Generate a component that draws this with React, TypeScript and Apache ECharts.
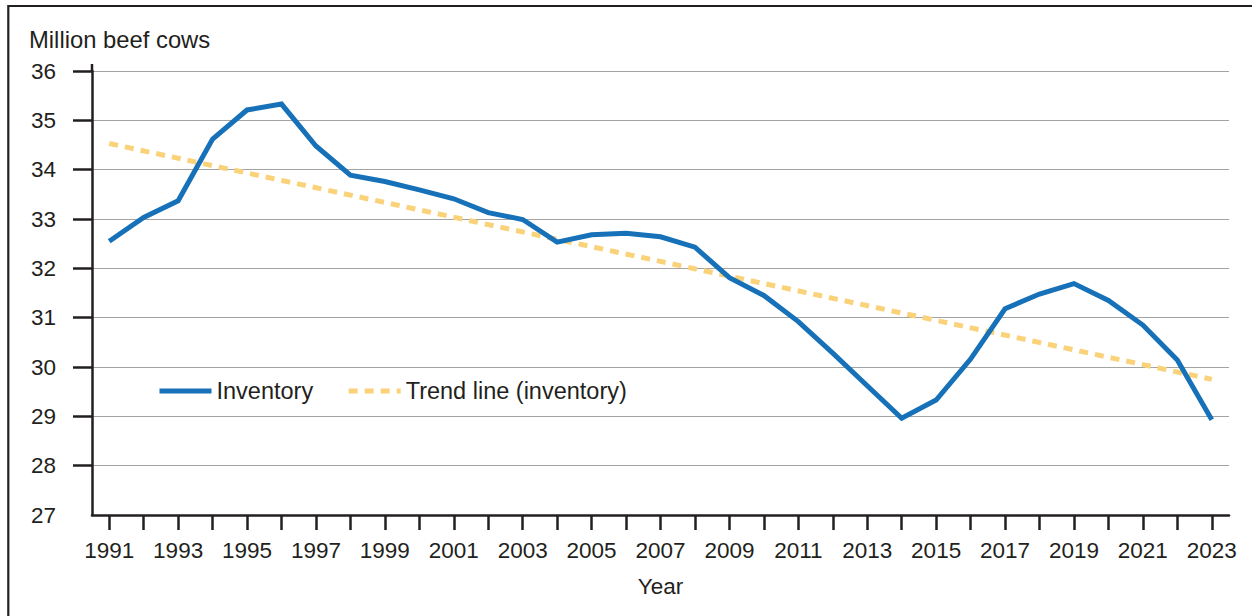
import React, { useEffect, useRef } from "react";
import * as echarts from "echarts";

const years = [
  "1991", "1992", "1993", "1994", "1995", "1996", "1997", "1998", "1999", "2000",
  "2001", "2002", "2003", "2004", "2005", "2006", "2007", "2008", "2009", "2010",
  "2011", "2012", "2013", "2014", "2015", "2016", "2017", "2018", "2019", "2020",
  "2021", "2022", "2023",
];

const inventory = [
  32.55, 33.03, 33.37, 34.62, 35.21, 35.33, 34.48, 33.89, 33.76, 33.59,
  33.41, 33.13, 32.99, 32.53, 32.68, 32.71, 32.64, 32.43, 31.81, 31.45,
  30.92, 30.28, 29.62, 28.96, 29.33, 30.16, 31.18, 31.48, 31.69, 31.35,
  30.85, 30.14, 28.93,
];

// Trend line endpoints; intermediate years are empty.
const trendFirst = 34.53;
const trendLast = 29.75;
const trend: (number | null)[] = years.map((_, i) =>
  i === 0 ? trendFirst : i === years.length - 1 ? trendLast : null
);

const yLabelValues = [27, 28, 29, 30, 31, 32, 33, 34, 35, 36];
const yTickValues = [28, 29, 30, 31, 32, 33, 34, 35, 36];

const FONT = "'Liberation Sans', Arial, sans-serif";
const INK = "#231f20";
const BLUE = "#1671b8";
const YELLOW = "#f9d27a";

export default function App() {
  const ref = useRef<HTMLDivElement>(null);
  useEffect(() => {
    if (!ref.current) return;
    const chart = echarts.init(ref.current, null, { renderer: "svg" });
    chart.setOption({
      animation: false,
      backgroundColor: "#ffffff",
      textStyle: { fontFamily: FONT, color: INK },
      title: {
        text: "Million beef cows",
        left: 29,
        top: 27,
        padding: 0,
        textStyle: { fontFamily: FONT, fontSize: 23.8, fontWeight: "normal", color: INK },
      },
      legend: {
        left: 157,
        top: 379,
        padding: 0,
        itemWidth: 52,
        itemHeight: 14,
        itemGap: 33,
        itemStyle: { opacity: 0 },
        lineStyle: { width: 5 },
        textStyle: { fontFamily: FONT, fontSize: 23.5, color: INK },
        data: ["Inventory", "Trend line (inventory)"],
      },
      grid: { left: 92, right: 23, top: 71, bottom: 101 },
      xAxis: {
        type: "category",
        data: years,
        boundaryGap: true,
        name: "Year",
        nameLocation: "middle",
        nameGap: 60,
        nameTextStyle: { fontFamily: FONT, fontSize: 22.5, color: INK },
        axisLine: { show: true, lineStyle: { color: INK, width: 2.5 } },
        axisTick: {
          show: true,
          alignWithLabel: true,
          interval: 0,
          length: 15,
          lineStyle: { color: INK, width: 2.5 },
        },
        axisLabel: {
          interval: 1,
          margin: 24,
          fontFamily: FONT,
          fontSize: 22.5,
          color: INK,
        },
        splitLine: { show: false },
      },
      yAxis: {
        type: "value",
        min: 27,
        max: 36,
        interval: 1,
        axisLine: { show: true, lineStyle: { color: INK, width: 2.5 } },
        axisTick: {
          show: true,
          length: 19,
          customValues: yTickValues,
          lineStyle: { color: INK, width: 2.5 },
        },
        axisLabel: {
          customValues: yLabelValues,
          margin: 36,
          fontFamily: FONT,
          fontSize: 22.5,
          color: INK,
          padding: [6, 0, 0, 0],
        },
        splitLine: { show: true, lineStyle: { color: "#a3a3a3", width: 1.2 } },
      },
      graphic: [
        {
          type: "polyline",
          silent: true,
          shape: { points: [[8.3, 640], [8.3, 6], [1270, 6]] },
          style: { stroke: INK, lineWidth: 2.2, fill: "none" },
        },
        {
          type: "line",
          silent: true,
          shape: { x1: 92, y1: 64, x2: 92, y2: 72 },
          style: { stroke: INK, lineWidth: 2.5 },
        },
      ],
      series: [
        {
          name: "Trend line (inventory)",
          type: "line",
          data: trend,
          connectNulls: true,
          symbol: "none",
          z: 2,
          lineStyle: { color: YELLOW, width: 5, type: [9, 7], cap: "butt" },
          itemStyle: { color: YELLOW },
        },
        {
          name: "Inventory",
          type: "line",
          data: inventory,
          symbol: "none",
          z: 3,
          lineStyle: { color: BLUE, width: 5, join: "miter" },
          itemStyle: { color: BLUE },
        },
      ],
    });
    return () => chart.dispose();
  }, []);
  return (
    <div
      ref={ref}
      style={{ position: "absolute", left: 0, top: 0, width: 1252, height: 616 }}
    />
  );
}
